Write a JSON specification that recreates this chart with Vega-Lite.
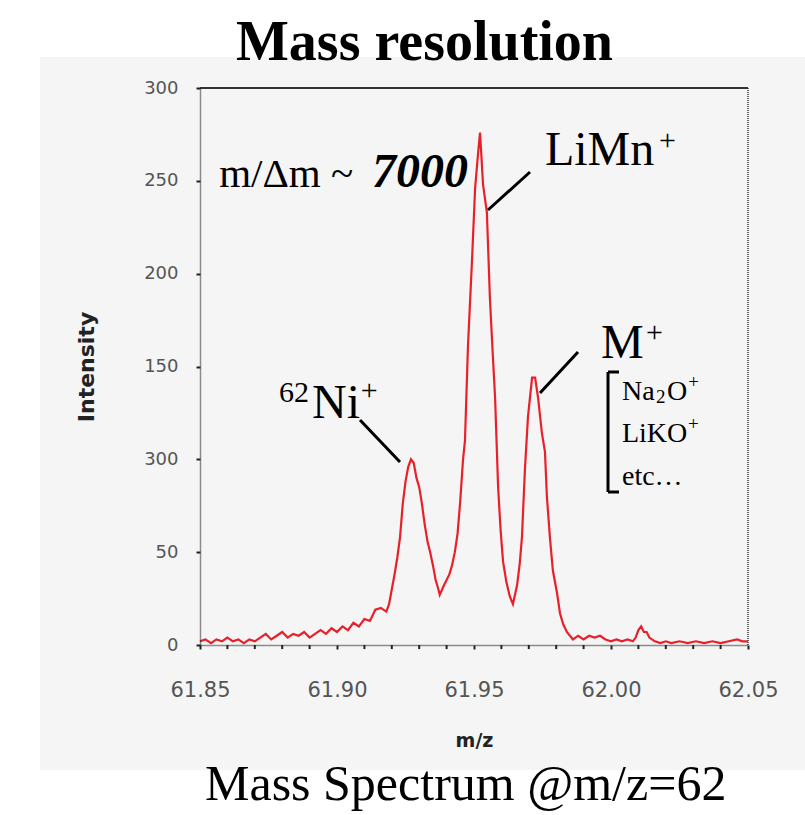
{
  "$schema": "https://vega.github.io/schema/vega-lite/v6.json",
  "width": 548,
  "height": 557,
  "autosize": {"type": "none"},
  "padding": {"left": 200, "top": 88, "right": 57, "bottom": 170},
  "background": "white",
  "title": {"text": "Mass resolution", "font": "Liberation Serif", "fontSize": 56, "fontWeight": "bold", "color": "black", "anchor": "start", "frame": "group", "dx": 36, "offset": -59, "baseline": "alphabetic"},
  "config": {
    "view": {"stroke": null},
    "axis": {"grid": false, "labelFont": "DejaVu Sans", "labelFontSize": 19, "labelColor": "#555", "titleFont": "DejaVu Sans", "titleFontSize": 19, "titleFontWeight": "bold", "titleColor": "#222", "domainColor": "#222", "domainWidth": 1.5, "domainDash": [1, 1], "tickColor": "#222", "tickSize": 4, "tickWidth": 2}
  },
  "layer": [
    {
      "data": {"values": [{"x1": 61.7916, "x2": 62.0708, "y1": -67.3, "y2": 316.7}]},
      "mark": {"type": "rect", "color": "#f5f5f5", "clip": false},
      "encoding": {
        "x": {"field": "x1", "type": "quantitative", "scale": {"domain": [61.85, 62.05], "nice": false, "zero": false},
          "axis": {"zindex": 2, "title": "m/z", "values": [61.85, 61.9, 61.95, 62.0, 62.05], "format": ".2f", "labelFontSize": 21, "labelPadding": 30, "titlePadding": 31, "labelFlush": false, "labelOverlap": false}},
        "x2": {"field": "x2"},
        "y": {"field": "y1", "type": "quantitative", "scale": {"domain": [0, 300], "nice": false},
          "axis": {"zindex": 2, "title": "Intensity", "titleFontSize": 22, "labelFontSize": 18, "values": [0, 50, 100, 150, 200, 250, 300], "labelExpr": "datum.value == 100 ? '300' : datum.label", "labelPadding": 18, "titlePadding": 45}},
        "y2": {"field": "y2"}
      }
    },
    {
      "data": {"values": [
        {"mz": 61.86}, {"mz": 61.87}, {"mz": 61.88}, {"mz": 61.89}, {"mz": 61.91}, {"mz": 61.92}, {"mz": 61.93}, {"mz": 61.94},
        {"mz": 61.96}, {"mz": 61.97}, {"mz": 61.98}, {"mz": 61.99}, {"mz": 62.01}, {"mz": 62.02}, {"mz": 62.03}, {"mz": 62.04}
      ]},
      "mark": {"type": "rule", "color": "#222", "strokeWidth": 2, "clip": false},
      "encoding": {"x": {"field": "mz", "type": "quantitative"}, "y": {"datum": 0, "type": "quantitative"}, "y2": {"datum": -2.2}}
    },
    {
      "data": {"values": [{"x1": 61.85, "x2": 62.05, "y1": 300, "y2": 300}]},
      "mark": {"type": "rule", "color": "#333", "strokeWidth": 2},
      "encoding": {"x": {"field": "x1", "type": "quantitative"}, "x2": {"field": "x2"}, "y": {"field": "y1", "type": "quantitative"}, "y2": {"field": "y2"}}
    },
    {
      "data": {"values": [{"x1": 62.05, "x2": 62.05, "y1": 0, "y2": 300}]},
      "mark": {"type": "rule", "color": "#333", "strokeWidth": 1.5, "strokeDash": [1, 1]},
      "encoding": {"x": {"field": "x1", "type": "quantitative"}, "x2": {"field": "x2"}, "y": {"field": "y1", "type": "quantitative"}, "y2": {"field": "y2"}}
    },
    {
      "data": {"values": [
        {"mz": 61.850, "intensity": 2}, {"mz": 61.852, "intensity": 3}, {"mz": 61.854, "intensity": 1}, {"mz": 61.856, "intensity": 3},
        {"mz": 61.858, "intensity": 2}, {"mz": 61.860, "intensity": 4}, {"mz": 61.862, "intensity": 2}, {"mz": 61.864, "intensity": 3},
        {"mz": 61.866, "intensity": 1}, {"mz": 61.868, "intensity": 3}, {"mz": 61.870, "intensity": 2}, {"mz": 61.872, "intensity": 4},
        {"mz": 61.874, "intensity": 6}, {"mz": 61.876, "intensity": 3}, {"mz": 61.878, "intensity": 5}, {"mz": 61.880, "intensity": 7},
        {"mz": 61.882, "intensity": 4}, {"mz": 61.884, "intensity": 6}, {"mz": 61.886, "intensity": 5}, {"mz": 61.888, "intensity": 7},
        {"mz": 61.890, "intensity": 4}, {"mz": 61.892, "intensity": 6}, {"mz": 61.894, "intensity": 8}, {"mz": 61.896, "intensity": 6},
        {"mz": 61.898, "intensity": 9}, {"mz": 61.900, "intensity": 7}, {"mz": 61.902, "intensity": 10}, {"mz": 61.904, "intensity": 8},
        {"mz": 61.906, "intensity": 12}, {"mz": 61.908, "intensity": 10}, {"mz": 61.910, "intensity": 14}, {"mz": 61.912, "intensity": 13},
        {"mz": 61.914, "intensity": 19}, {"mz": 61.916, "intensity": 20}, {"mz": 61.918, "intensity": 18}, {"mz": 61.919, "intensity": 22},
        {"mz": 61.920, "intensity": 30}, {"mz": 61.921, "intensity": 38}, {"mz": 61.922, "intensity": 47}, {"mz": 61.923, "intensity": 58},
        {"mz": 61.924, "intensity": 76}, {"mz": 61.925, "intensity": 88}, {"mz": 61.926, "intensity": 96}, {"mz": 61.927, "intensity": 100},
        {"mz": 61.928, "intensity": 98}, {"mz": 61.929, "intensity": 90}, {"mz": 61.930, "intensity": 85}, {"mz": 61.931, "intensity": 76},
        {"mz": 61.932, "intensity": 65}, {"mz": 61.933, "intensity": 56}, {"mz": 61.934, "intensity": 50}, {"mz": 61.935, "intensity": 43},
        {"mz": 61.936, "intensity": 35}, {"mz": 61.937, "intensity": 30}, {"mz": 61.9375, "intensity": 27}, {"mz": 61.939, "intensity": 32},
        {"mz": 61.941, "intensity": 38}, {"mz": 61.942, "intensity": 43}, {"mz": 61.943, "intensity": 50}, {"mz": 61.944, "intensity": 60},
        {"mz": 61.945, "intensity": 78}, {"mz": 61.946, "intensity": 100}, {"mz": 61.9467, "intensity": 110}, {"mz": 61.9478, "intensity": 161},
        {"mz": 61.9493, "intensity": 208}, {"mz": 61.9504, "intensity": 246}, {"mz": 61.9515, "intensity": 265}, {"mz": 61.9522, "intensity": 276},
        {"mz": 61.9533, "intensity": 248}, {"mz": 61.9547, "intensity": 233}, {"mz": 61.9558, "intensity": 187}, {"mz": 61.9568, "intensity": 158},
        {"mz": 61.9577, "intensity": 133}, {"mz": 61.9588, "intensity": 85}, {"mz": 61.9597, "intensity": 62}, {"mz": 61.9606, "intensity": 45},
        {"mz": 61.9618, "intensity": 34}, {"mz": 61.9631, "intensity": 26}, {"mz": 61.9642, "intensity": 22}, {"mz": 61.9657, "intensity": 32},
        {"mz": 61.9667, "intensity": 44}, {"mz": 61.9675, "intensity": 58}, {"mz": 61.9686, "intensity": 95}, {"mz": 61.9697, "intensity": 123},
        {"mz": 61.9712, "intensity": 144}, {"mz": 61.9723, "intensity": 144}, {"mz": 61.9734, "intensity": 133}, {"mz": 61.9748, "intensity": 114},
        {"mz": 61.9759, "intensity": 104}, {"mz": 61.9766, "intensity": 80}, {"mz": 61.9777, "intensity": 58}, {"mz": 61.9788, "intensity": 40},
        {"mz": 61.9803, "intensity": 28}, {"mz": 61.9814, "intensity": 17}, {"mz": 61.9826, "intensity": 11}, {"mz": 61.9839, "intensity": 7},
        {"mz": 61.9861, "intensity": 3}, {"mz": 61.988, "intensity": 5}, {"mz": 61.990, "intensity": 3}, {"mz": 61.992, "intensity": 5},
        {"mz": 61.994, "intensity": 4}, {"mz": 61.996, "intensity": 5}, {"mz": 61.998, "intensity": 3}, {"mz": 62.000, "intensity": 2},
        {"mz": 62.002, "intensity": 3}, {"mz": 62.004, "intensity": 2}, {"mz": 62.006, "intensity": 3}, {"mz": 62.008, "intensity": 2},
        {"mz": 62.009, "intensity": 4}, {"mz": 62.010, "intensity": 8}, {"mz": 62.011, "intensity": 10}, {"mz": 62.012, "intensity": 7},
        {"mz": 62.013, "intensity": 7}, {"mz": 62.014, "intensity": 4}, {"mz": 62.016, "intensity": 2}, {"mz": 62.018, "intensity": 1},
        {"mz": 62.020, "intensity": 2}, {"mz": 62.022, "intensity": 1}, {"mz": 62.025, "intensity": 2}, {"mz": 62.028, "intensity": 1},
        {"mz": 62.031, "intensity": 2}, {"mz": 62.034, "intensity": 1}, {"mz": 62.037, "intensity": 2}, {"mz": 62.040, "intensity": 1},
        {"mz": 62.043, "intensity": 2}, {"mz": 62.046, "intensity": 3}, {"mz": 62.048, "intensity": 2}, {"mz": 62.050, "intensity": 2}
      ]},
      "mark": {"type": "line", "color": "#e8202a", "strokeWidth": 2.2, "clip": false},
      "encoding": {"x": {"field": "mz", "type": "quantitative"}, "y": {"field": "intensity", "type": "quantitative"}}
    },
    {
      "data": {"values": [
        {"x1": 61.97044, "y1": 254.76, "x2": 61.95511, "y2": 234.29},
        {"x1": 61.98796, "y1": 157.81, "x2": 61.97409, "y2": 135.73},
        {"x1": 61.90839, "y1": 121.19, "x2": 61.92299, "y2": 98.56},
        {"x1": 61.99891, "y1": 147.04, "x2": 61.99891, "y2": 82.41},
        {"x1": 61.99891, "y1": 147.04, "x2": 62.00292, "y2": 147.04},
        {"x1": 61.99891, "y1": 82.41, "x2": 62.00292, "y2": 82.41}
      ]},
      "mark": {"type": "rule", "color": "black", "strokeWidth": 3},
      "encoding": {"x": {"field": "x1", "type": "quantitative"}, "x2": {"field": "x2"}, "y": {"field": "y1", "type": "quantitative"}, "y2": {"field": "y2"}}
    },
    {
      "data": {"values": [
        {"label": "LiMn", "mz": 61.9759, "intensity": 258.5},
        {"label": "M", "mz": 61.99635, "intensity": 154.6},
        {"label": "Ni", "mz": 61.8909, "intensity": 122.3}
      ]},
      "mark": {"type": "text", "font": "Liberation Serif", "fontSize": 48, "align": "left", "baseline": "alphabetic", "color": "black", "clip": false},
      "encoding": {"x": {"field": "mz", "type": "quantitative"}, "y": {"field": "intensity", "type": "quantitative"}, "text": {"field": "label"}}
    },
    {
      "data": {"values": [
        {"label": "+", "mz": 62.0175, "intensity": 266.6},
        {"label": "+", "mz": 62.0128, "intensity": 163.2},
        {"label": "+", "mz": 61.9087, "intensity": 132.0},
        {"label": "62", "mz": 61.8788, "intensity": 130.9}
      ]},
      "mark": {"type": "text", "font": "Liberation Serif", "fontSize": 30, "align": "left", "baseline": "alphabetic", "color": "black", "clip": false},
      "encoding": {"x": {"field": "mz", "type": "quantitative"}, "y": {"field": "intensity", "type": "quantitative"}, "text": {"field": "label"}}
    },
    {
      "data": {"values": [
        {"label": "Na", "mz": 62.0040, "intensity": 131.96},
        {"label": "O", "mz": 62.0204, "intensity": 131.96},
        {"label": "LiKO", "mz": 62.0040, "intensity": 109.34},
        {"label": "etc…", "mz": 62.0040, "intensity": 86.18}
      ]},
      "mark": {"type": "text", "font": "Liberation Serif", "fontSize": 28, "align": "left", "baseline": "alphabetic", "color": "black", "clip": false},
      "encoding": {"x": {"field": "mz", "type": "quantitative"}, "y": {"field": "intensity", "type": "quantitative"}, "text": {"field": "label"}}
    },
    {
      "data": {"values": [
        {"label": "2", "mz": 62.0164, "intensity": 130.4},
        {"label": "+", "mz": 62.0282, "intensity": 138.42},
        {"label": "+", "mz": 62.0281, "intensity": 115.8}
      ]},
      "mark": {"type": "text", "font": "Liberation Serif", "fontSize": 19, "align": "left", "baseline": "alphabetic", "color": "black", "clip": false},
      "encoding": {"x": {"field": "mz", "type": "quantitative"}, "y": {"field": "intensity", "type": "quantitative"}, "text": {"field": "label"}}
    },
    {
      "data": {"values": [{"label": "m/Δm ~", "mz": 61.8570, "intensity": 246.7}]},
      "mark": {"type": "text", "font": "Liberation Serif", "fontSize": 41, "align": "left", "baseline": "alphabetic", "color": "black", "clip": false},
      "encoding": {"x": {"field": "mz", "type": "quantitative"}, "y": {"field": "intensity", "type": "quantitative"}, "text": {"field": "label"}}
    },
    {
      "data": {"values": [{"label": "7000", "mz": 61.9128, "intensity": 246.7}]},
      "mark": {"type": "text", "font": "Liberation Serif", "fontSize": 48, "fontWeight": "bold", "fontStyle": "italic", "align": "left", "baseline": "alphabetic", "color": "black", "clip": false},
      "encoding": {"x": {"field": "mz", "type": "quantitative"}, "y": {"field": "intensity", "type": "quantitative"}, "text": {"field": "label"}}
    },
    {
      "data": {"values": [{"label": "Mass Spectrum @m/z=62", "mz": 61.85182, "intensity": -83.48}]},
      "mark": {"type": "text", "font": "Liberation Serif", "fontSize": 50, "align": "left", "baseline": "alphabetic", "color": "black", "clip": false},
      "encoding": {"x": {"field": "mz", "type": "quantitative"}, "y": {"field": "intensity", "type": "quantitative"}, "text": {"field": "label"}}
    }
  ]
}
